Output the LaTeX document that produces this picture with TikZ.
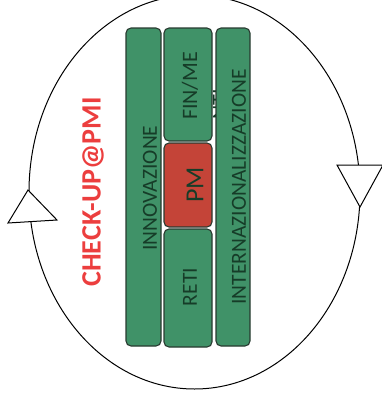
\documentclass[tikz,border=0pt]{standalone}
\usepackage{fontspec}
\setmainfont{Carlito}
\definecolor{boxgreen}{RGB}{64,146,104}
\definecolor{boxred}{RGB}{196,68,56}
\definecolor{boxline}{RGB}{40,58,48}
\definecolor{boxtext}{RGB}{22,60,40}
\definecolor{titlered}{RGB}{236,62,62}
\begin{document}
\begin{tikzpicture}[x=1pt,y=-1pt,
  bar/.style={draw=boxline,line width=1.1pt,rounded corners=5pt},
  greenbar/.style={bar,fill=boxgreen},
  redbar/.style={bar,fill=boxred},
  lbl/.style={rotate=90,text=boxtext,font=\fontsize{21.5}{24}\selectfont,inner sep=0pt},
  arrowtri/.style={draw=black,line width=1pt,fill=white,line join=miter}]
\useasboundingbox (0,0) rectangle (382,408);
\clip (0,0) rectangle (382,408);
% cycle ellipse
\draw[line width=1pt] (194.5,192) ellipse [x radius=165.5pt, y radius=197pt];
\coordinate (lt1) at (28,190);
\coordinate (lt2) at (8,223);
\coordinate (lt3) at (57,220);
\draw[arrowtri] (lt1) -- (lt2) -- (lt3) -- cycle;
\coordinate (rt1) at (337,165);
\coordinate (rt2) at (383,165);
\coordinate (rt3) at (360,207);
\draw[arrowtri] (rt1) -- (rt2) -- (rt3) -- cycle;
% bars
\draw[greenbar] (126,28) rectangle (161,346);
\node[lbl] (innov) at (150,188) {INNOVAZIONE};
\draw[greenbar] (164,28) rectangle (212,141);
\node[lbl,font=\fontsize{22}{24}\selectfont] (fin) at (190,86) {FIN/ME};
\node[lbl,font=\fontsize{22}{24}\selectfont] (nti) at (220,104) {NTI};
\draw[redbar] (164,143) rectangle (212,227);
\node[lbl,font=\fontsize{26}{28}\selectfont] (pm) at (195,185) {PM};
\draw[greenbar] (164,229) rectangle (212,347);
\node[lbl] (reti) at (190,287) {RETI};
\draw[greenbar] (216,28) rectangle (250,346);
\node[lbl] (inter) at (239,187) {INTERNAZIONALIZZAZIONE};
% title
\node[rotate=90,text=titlered,font=\fontsize{28}{30}\selectfont\bfseries,inner sep=0pt] (title) at (93,192) {CHECK-UP@PMI};
\end{tikzpicture}
\end{document}
